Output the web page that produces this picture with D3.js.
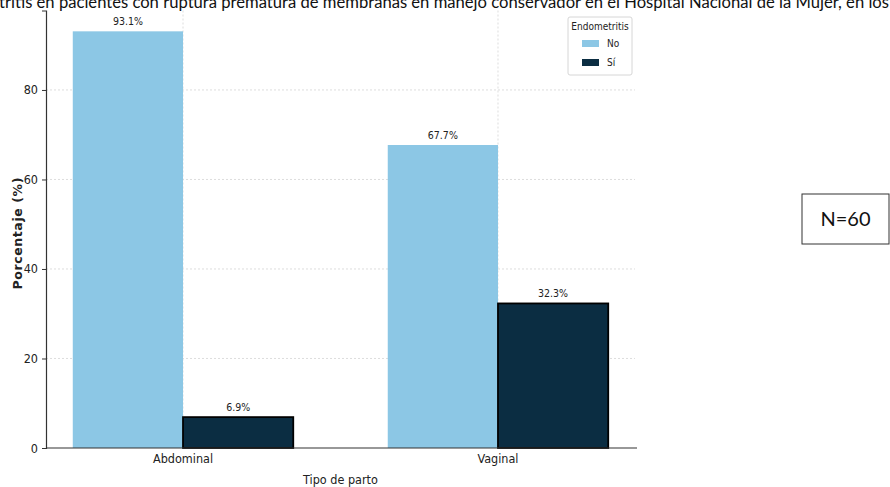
<!DOCTYPE html>
<html>
<head>
<meta charset="utf-8">
<script src="https://cdn.jsdelivr.net/npm/d3@7"></script>
<style>
  html, body { margin: 0; padding: 0; background: #fff; }
  svg { display: block; }
  .cond { font-family: "DejaVu Sans Condensed", "DejaVu Sans", sans-serif; font-stretch: condensed; }
</style>
</head>
<body>
<svg id="chart" width="890" height="487"></svg>
<script>
// Tipo de parto vs endometritis (%)
const categories = ["Abdominal", "Vaginal"];
const seriesNames = ["No", "Sí"];
const noValues = [93.1, 67.7];
const siValues = [6.9, 32.3];
const yTicks = [0, 20, 40, 60, 80];
const titleText = "Endometritis en pacientes con ruptura prematura de membranas en manejo conservador en el Hospital Nacional de la Mujer, en los";

const colors = { "No": "#8cc7e5", "Sí": "#0b2d42" };

const svg = d3.select("#chart");
const plot = { left: 46, right: 635, top: 10.5, bottom: 448 };

const x = d3.scaleBand()
  .domain(categories)
  .range([plot.left, plot.right])
  .paddingInner(0.3)
  .paddingOuter(0.085);

const xSub = d3.scaleBand()
  .domain(seriesNames)
  .range([0, x.bandwidth()]);

const y = d3.scaleLinear()
  .domain([0, 93.1 * 1.05])
  .range([plot.bottom, plot.top]);

const rows = categories.map((c, i) => ({
  category: c,
  values: [
    { series: "No", value: noValues[i] },
    { series: "Sí", value: siValues[i] }
  ]
}));

// grid
const grid = svg.append("g").attr("stroke", "#d4d4d4").attr("stroke-width", 0.8)
  .attr("stroke-dasharray", "2,2");
grid.selectAll("line.h").data(yTicks.filter(t => t > 0)).join("line")
  .attr("x1", plot.left).attr("x2", plot.right)
  .attr("y1", d => y(d)).attr("y2", d => y(d));
grid.selectAll("line.v").data(categories).join("line")
  .attr("x1", d => x(d) + x.bandwidth() / 2).attr("x2", d => x(d) + x.bandwidth() / 2)
  .attr("y1", plot.top).attr("y2", plot.bottom);

// bars
const groups = svg.selectAll("g.grp").data(rows).join("g")
  .attr("transform", d => `translate(${x(d.category)},0)`);

groups.selectAll("rect").data(d => d.values).join("rect")
  .attr("x", d => xSub(d.series))
  .attr("width", xSub.bandwidth())
  .attr("y", d => y(d.value))
  .attr("height", d => y(0) - y(d.value))
  .attr("fill", d => colors[d.series])
  .attr("stroke", d => d.series === "Sí" ? "#000" : "none")
  .attr("stroke-width", 1.8);

groups.selectAll("text").data(d => d.values).join("text")
  .attr("class", "cond")
  .attr("x", d => xSub(d.series) + xSub.bandwidth() / 2)
  .attr("y", d => y(d.value) - 6)
  .attr("text-anchor", "middle")
  .attr("font-size", 10.5)
  .attr("fill", "#222")
  .text(d => d.value.toFixed(1) + "%");

// axes
const yAxis = svg.append("g")
  .attr("transform", `translate(${plot.left},0)`)
  .call(d3.axisLeft(y).tickValues(yTicks).tickSize(4).tickPadding(4).tickFormat(d3.format("d")));
yAxis.select(".domain").attr("stroke", "#333").attr("stroke-width", 1.2);
yAxis.selectAll(".tick line").attr("stroke", "#333");
yAxis.selectAll("text").attr("class", "cond").attr("font-size", 12.5).attr("fill", "#222");

const xAxis = svg.append("g")
  .attr("transform", `translate(0,${plot.bottom})`)
  .call(d3.axisBottom(x).tickSize(0).tickPadding(6));
xAxis.select(".domain").attr("d", `M${plot.left},0H${plot.right + 2}`).attr("stroke", "#333").attr("stroke-width", 1.2);
xAxis.selectAll("text").attr("class", "cond").attr("font-size", 12.5).attr("fill", "#222");

// axis titles
svg.append("text").attr("class", "cond")
  .attr("x", (plot.left + plot.right) / 2).attr("y", 484)
  .attr("text-anchor", "middle").attr("font-size", 12.5).attr("fill", "#222")
  .text("Tipo de parto");

svg.append("text")
  .attr("transform", `translate(22,${(plot.top + plot.bottom) / 2 + 4}) rotate(-90)`)
  .attr("text-anchor", "middle")
  .attr("font-family", "DejaVu Sans, sans-serif").attr("font-weight", "bold")
  .attr("font-size", 12.5).attr("fill", "#222").attr("letter-spacing", 0.6)
  .text("Porcentaje (%)");

// legend
const lg = svg.append("g").attr("transform", "translate(568,17)");
lg.append("rect").attr("width", 64).attr("height", 58).attr("rx", 2)
  .attr("fill", "#fff").attr("stroke", "#d6d6d6");
lg.append("text").attr("class", "cond").attr("x", 32).attr("y", 13)
  .attr("text-anchor", "middle").attr("font-size", 10).attr("fill", "#222")
  .text("Endometritis");
seriesNames.forEach((s, i) => {
  const row = lg.append("g").attr("transform", `translate(0,${23 + i * 19})`);
  row.append("rect").attr("x", 14).attr("width", 17).attr("height", 7)
    .attr("fill", colors[s]);
  row.append("text").attr("class", "cond").attr("x", 39).attr("y", 7)
    .attr("font-size", 10).attr("fill", "#222").text(s);
});

// title (runs past the left and top edges of the frame)
const title = svg.append("text")
  .attr("y", 8)
  .attr("font-family", "Lato, 'Open Sans', sans-serif")
  .attr("font-size", 16).attr("fill", "#111")
  .text(titleText);
const prefix = svg.append("text").attr("font-family", "Lato, 'Open Sans', sans-serif")
  .attr("font-size", 16).text("Endome");
const prefixW = prefix.node().getComputedTextLength();
prefix.remove();
const fullW = title.node().getComputedTextLength();
const scale = 890 / (fullW - prefixW);
title.attr("font-size", Math.min(17, 16 * scale));
const fullW2 = title.node().getComputedTextLength();
const pre2 = prefixW * (fullW2 / fullW);
title.attr("x", -pre2 - 1);

// sample size box
const nb = svg.append("g").attr("transform", "translate(802,194)");
nb.append("rect").attr("width", 87).attr("height", 50)
  .attr("fill", "#fff").attr("stroke", "#333").attr("stroke-width", 1);
nb.append("text").attr("x", 43.5).attr("y", 32)
  .attr("text-anchor", "middle")
  .attr("font-family", "Lato, 'Open Sans', sans-serif")
  .attr("font-size", 20).attr("fill", "#111")
  .text("N=60");
</script>
</body>
</html>
